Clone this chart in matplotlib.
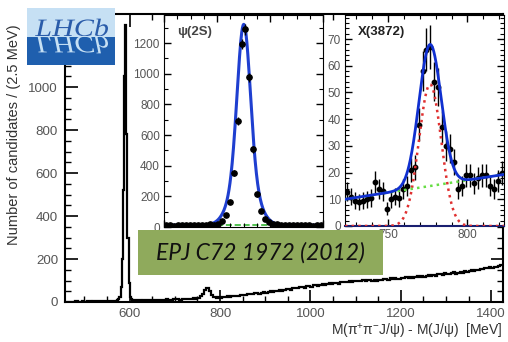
import numpy as np
import matplotlib
matplotlib.use('Agg')
import matplotlib.pyplot as plt
from matplotlib.patches import Rectangle, PathPatch
from matplotlib.textpath import TextPath
from matplotlib.font_manager import FontProperties
from matplotlib.transforms import Affine2D
from matplotlib.ticker import MultipleLocator

plt.rcParams['font.family'] = ['Liberation Sans', 'DejaVu Sans']
plt.rcParams['mathtext.fontset'] = 'custom'
plt.rcParams['mathtext.rm'] = 'Liberation Sans'
plt.rcParams['mathtext.it'] = 'Liberation Sans'
plt.rcParams['mathtext.bf'] = 'Liberation Sans:bold'

# ---------------- data ----------------
# main spectrum: 460-570 (5 MeV bins), 570-610 (2.5 MeV bins), 610-1425 (5 MeV bins)
low_counts = [1, 2, 1, 2, 3, 2, 2, 3, 2, 3, 3, 2, 4, 3, 3, 4, 3, 4, 5, 4, 5, 6]
psi_peak_counts = [6, 8, 12, 25, 70, 200, 520, 1050, 1290, 780, 300, 90, 25, 12, 8, 8]
high_counts = (
    [8, 7, 9, 6, 8, 9, 7, 10, 8, 9, 11, 8, 10, 9, 12, 10, 11, 13]
    + [12, 14, 11, 15, 13, 16, 14, 15, 17, 16, 20, 26]
    + [38, 55, 66, 52, 34, 22]
    + [20, 22, 19, 24, 23, 26, 25, 28, 27, 30, 29, 32]
    + [34, 31, 36, 38, 35, 40, 42, 39, 44, 46, 43, 48, 50, 47, 52, 51, 55, 53, 57, 59]
    + [61, 58, 64, 66, 63, 69, 70, 67, 73, 75, 72, 77, 79, 76, 81, 83, 80, 84, 87, 85]
    + [88, 90, 86, 92, 94, 91, 95, 97, 93, 99, 96, 100, 98, 102, 99, 104, 101, 97, 103, 100]
    + [104, 101, 106, 108, 103, 110, 107, 112, 109, 106, 113, 111, 115, 112, 118, 110, 116, 119, 114, 121]
    + [118, 122, 125, 120, 126, 123, 128, 131, 127, 133, 130, 128, 135, 138, 132, 136, 140, 137, 142, 139]
    + [144, 148, 146, 151, 149, 155, 152, 158, 156, 161, 159, 165, 163, 168, 172]
)
main_counts = np.array(low_counts + psi_peak_counts + high_counts, dtype=float)
main_edges = np.concatenate([np.arange(460, 570, 5), np.arange(570, 610, 2.5),
                             np.arange(610, 1425.1, 5)])

# psi(2S) inset: 1.5 MeV bins 560-620
psi_counts = np.array([10, 12, 9, 11, 13, 10, 12, 11, 14, 12, 15, 18,
                       16, 22, 40,
                       78, 165, 350, 694, 1194, 1290, 976, 507, 213, 104, 50, 30, 22,
                       18, 15, 14, 12, 13, 11, 12, 10, 11, 9, 10, 12], dtype=float)
psi_edges = np.arange(560, 620.1, 1.5)
psi_fit_mu, psi_core_sigma, psi_core_amp = 590.1, 2.4, 950
psi_wide_sigma, psi_wide_amp, psi_bg = 4.5, 360, 12

# X(3872) inset: 2.5 MeV bins 723-823
x_counts = np.array([12.9, 11, 9.5, 9, 9.5, 10, 10.5, 16.5, 14, 13,
                     6.5, 10, 11, 10.5, 14, 15, 21, 22, 38, 58,
                     66, 67, 54, 52, 37, 30, 29, 24, 14, 15,
                     19, 19, 16, 18, 19, 19, 15, 14, 17, 20])
x_edges = np.arange(723, 823.1, 2.5)
x_mu, x_sigma, x_amp = 776.5, 7.0, 53
x_bg_left, x_bg_right = 10.0, 19.3

# ---------------- figure ----------------
W, H = 508, 342
fig = plt.figure(figsize=(W / 100, H / 100), dpi=100)
tick_col = '#555555'


def fax(x0, y0, x1, y1):
    return [x0 / W, 1 - y1 / H, (x1 - x0) / W, (y1 - y0) / H]


ax = fig.add_axes(fax(65, 14, 503, 302))
ax.stairs(main_counts, main_edges, color='black', lw=1.6, baseline=None)
ax.set_xlim(457, 1426)
ax.set_ylim(0, 1340)
ax.xaxis.set_major_locator(MultipleLocator(200))
ax.xaxis.set_minor_locator(MultipleLocator(50))
ax.yaxis.set_major_locator(MultipleLocator(200))
ax.yaxis.set_minor_locator(MultipleLocator(50))
ax.tick_params(which='both', direction='in', top=True, right=True,
               labelsize=9.6, labelcolor=tick_col)
ax.tick_params(which='major', length=9, width=1.2)
ax.tick_params(which='minor', length=4.5, width=1.0)
ax.tick_params(axis='x', pad=4)
ax.tick_params(axis='y', pad=5)
for s in ax.spines.values():
    s.set_linewidth(1.5)

# psi(2S) inset
ax1 = fig.add_axes(fax(164, 15, 323, 227), zorder=2)
pc = 0.5 * (psi_edges[1:] + psi_edges[:-1])
xf1 = np.linspace(560, 620, 500)
fit1 = (psi_bg + psi_core_amp * np.exp(-0.5 * ((xf1 - psi_fit_mu) / psi_core_sigma) ** 2)
        + psi_wide_amp * np.exp(-0.5 * ((xf1 - psi_fit_mu) / psi_wide_sigma) ** 2))
ax1.plot(xf1, np.full_like(xf1, psi_bg), color='#33b833', ls='--', lw=1.2, zorder=1)
ax1.plot(xf1, fit1, color='#1f3fd0', lw=2.2, zorder=2)
ax1.errorbar(pc, psi_counts, yerr=np.sqrt(psi_counts), xerr=0.75, fmt='o',
             color='black', ms=3.8, lw=1.0, capsize=0, zorder=3)
ax1.set_xlim(560, 620)
ax1.set_ylim(0, 1383)
ax1.xaxis.set_major_locator(MultipleLocator(20))
ax1.xaxis.set_minor_locator(MultipleLocator(5))
ax1.yaxis.set_major_locator(MultipleLocator(200))
ax1.yaxis.set_minor_locator(MultipleLocator(100))
ax1.tick_params(which='both', direction='in', top=True, right=True,
                labelsize=8.5, labelcolor=tick_col, labelbottom=False)
ax1.tick_params(which='major', length=5, width=1.0)
ax1.tick_params(which='minor', length=3, width=0.8)
ax1.tick_params(axis='y', pad=3)
ax1.text(0.08, 0.92, 'ψ(2S)', transform=ax1.transAxes, fontsize=9.5,
         fontweight='bold', color='#444444', va='center', ha='left')

# X(3872) inset
ax2 = fig.add_axes(fax(345, 15, 504, 226), zorder=2)
xc = 0.5 * (x_edges[1:] + x_edges[:-1])
xf2 = np.linspace(723, 823, 500)
bg2 = x_bg_left + (x_bg_right - x_bg_left) * (xf2 - 723) / 100
sig2 = x_amp * np.exp(-0.5 * ((xf2 - x_mu) / x_sigma) ** 2)
ax2.errorbar(xc, x_counts, yerr=np.sqrt(x_counts), xerr=1.25, fmt='o',
             color='black', ms=3.2, lw=1.0, capsize=0, zorder=2)
ax2.plot(xf2, sig2, color='#e03030', ls=':', lw=1.8, zorder=3)
ax2.plot(xf2, bg2, color='#66dd44', ls=':', lw=1.8, zorder=3)
ax2.plot(xf2, bg2 + sig2, color='#1030d0', lw=2.0, zorder=4)
ax2.set_xlim(723, 823)
ax2.set_ylim(0, 79)
ax2.xaxis.set_major_locator(MultipleLocator(50))
ax2.xaxis.set_minor_locator(MultipleLocator(10))
ax2.yaxis.set_major_locator(MultipleLocator(10))
ax2.yaxis.set_minor_locator(MultipleLocator(2))
ax2.tick_params(which='both', direction='in', top=True, right=True,
                labelsize=8.5, labelcolor=tick_col)
ax2.tick_params(which='major', length=5, width=1.0)
ax2.tick_params(which='minor', length=3, width=0.8)
ax2.tick_params(axis='x', pad=2)
ax2.tick_params(axis='y', pad=3)
ax2.spines['bottom'].set_color('#1a1f70')
ax2.spines['bottom'].set_linewidth(1.5)
ax2.text(0.08, 0.92, 'X(3872)', transform=ax2.transAxes, fontsize=9.5,
         fontweight='bold', color='#222222', va='center', ha='left')

# axis labels
fig.text(14 / W, 1 - 135 / H, 'Number of candidates / (2.5 MeV)', rotation=90,
         ha='center', va='center', fontsize=10.5, color='#333333')
fig.text(503 / W, 1 - 332 / H,
         r'M($\mathregular{\pi^{+}\pi^{-}}$J/$\mathregular{\psi}$) - M(J/$\mathregular{\psi}$)  [MeV]',
         ha='right', va='center', fontsize=10, color='#333333')

# green publication box
box = Rectangle((138 / W, 1 - 275 / H), 245 / W, 45 / H, transform=fig.transFigure,
                facecolor='#8faa5c', edgecolor='none', zorder=10)
fig.add_artist(box)
fig.text(260 / W, 1 - 253 / H, 'EPJ C72 1972 (2012)', family=['Lato', 'DejaVu Sans'],
         style='italic', fontsize=16.5, color='#111111', ha='center', va='center', zorder=11)

# LHCb logo
fig.add_artist(Rectangle((27 / W, 1 - 37 / H), 88 / W, 29 / H, transform=fig.transFigure,
                         facecolor='#c6e0f4', edgecolor='none', zorder=10))
fig.add_artist(Rectangle((27 / W, 1 - 65 / H), 88 / W, 28 / H, transform=fig.transFigure,
                         facecolor='#1f5fae', edgecolor='none', zorder=10))
tp = TextPath((0, 0), 'LHCb', size=25,
              prop=FontProperties(family='Liberation Serif', style='italic'))
ext = tp.get_extents()
sx = 73 / ext.width
base_y = H - 36
x_off = 35 - ext.x0 * sx
fig.add_artist(PathPatch(tp, transform=Affine2D().scale(sx, 1).translate(x_off, base_y),
                         facecolor='#2a5caa', edgecolor='none', zorder=11))
fig.add_artist(PathPatch(tp, transform=Affine2D().scale(sx, -1).translate(x_off, base_y),
                         facecolor='#c6e0f4', edgecolor='none', zorder=11))

fig.savefig('out.png', dpi=100)
